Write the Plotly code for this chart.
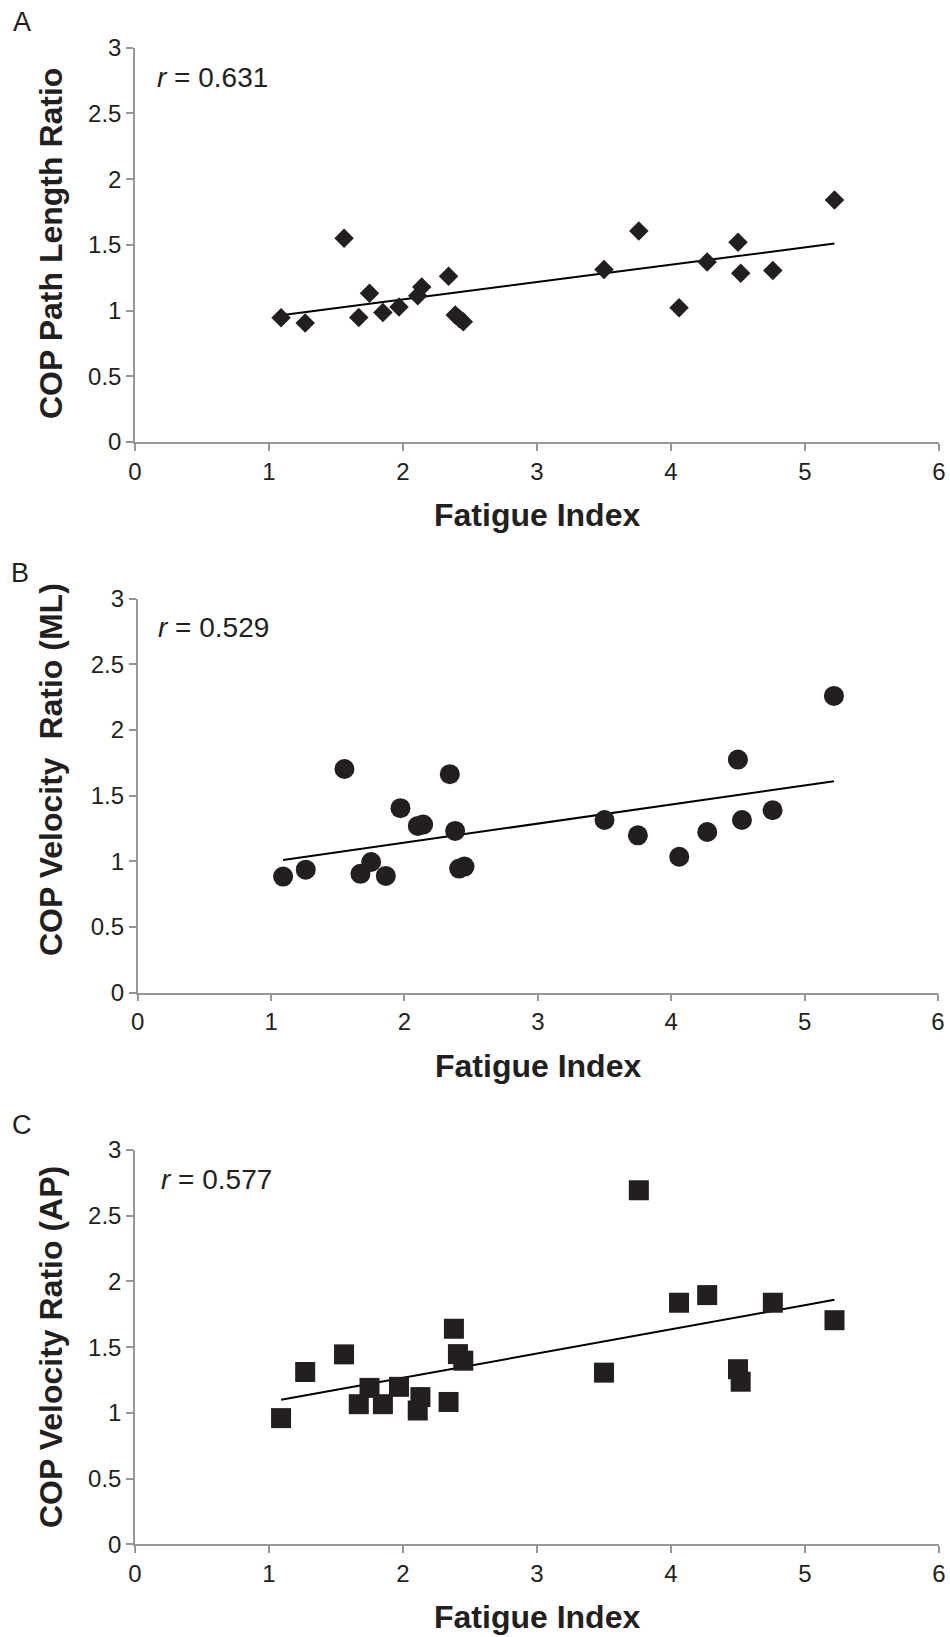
import plotly.graph_objects as go

# ---------------- data ----------------
fatigue_a = [1.09, 1.27, 1.56, 1.67, 1.75, 1.85, 1.97, 2.11, 2.14, 2.34, 2.39, 2.42, 2.45,
             3.50, 3.76, 4.06, 4.27, 4.50, 4.52, 4.76, 5.22]
path_ratio = [0.946, 0.906, 1.55, 0.948, 1.132, 0.985, 1.028, 1.112, 1.18, 1.262, 0.967, 0.94, 0.914,
              1.313, 1.606, 1.022, 1.37, 1.52, 1.284, 1.305, 1.842]

fatigue_b = [1.09, 1.26, 1.55, 1.67, 1.75, 1.86, 1.97, 2.10, 2.14, 2.34, 2.38, 2.41, 2.45,
             3.50, 3.75, 4.06, 4.27, 4.50, 4.53, 4.76, 5.22]
vel_ml_ratio = [0.884, 0.937, 1.703, 0.905, 0.995, 0.889, 1.405, 1.27, 1.28, 1.664, 1.232, 0.945, 0.96,
                1.315, 1.198, 1.035, 1.224, 1.775, 1.315, 1.389, 2.26]

fatigue_c = [1.09, 1.27, 1.56, 1.67, 1.75, 1.85, 1.97, 2.11, 2.13, 2.34, 2.38, 2.41, 2.45,
             3.50, 3.76, 4.06, 4.27, 4.50, 4.52, 4.76, 5.22]
vel_ap_ratio = [0.96, 1.311, 1.445, 1.066, 1.19, 1.066, 1.198, 1.018, 1.12, 1.083, 1.64, 1.447, 1.397,
                1.306, 2.694, 1.838, 1.896, 1.332, 1.237, 1.838, 1.705]

trend_x = [1.09, 5.22]
trend_a = [0.965, 1.51]
trend_b = [1.01, 1.61]
trend_c = [1.10, 1.86]

r_labels = ["0.631", "0.529", "0.577"]
panel_labels = ["A", "B", "C"]
y_titles = ["COP Path Length Ratio", "COP Velocity\u00a0 Ratio (ML)", "COP Velocity Ratio (AP)"]
x_title = "Fatigue Index"

# ---------------- figure ----------------
W, H = 950, 1637
INK = "#231f20"
AXC = "#969696"
FONT = "Liberation Sans, Arial, sans-serif"

fig = go.Figure()

panels = [
    dict(x=fatigue_a, y=path_ratio, ty=trend_a, sym="diamond", size=15),
    dict(x=fatigue_b, y=vel_ml_ratio, ty=trend_b, sym="circle", size=20),
    dict(x=fatigue_c, y=vel_ap_ratio, ty=trend_c, sym="square", size=20),
]

# plot-area pixel boxes (left, right, top, bottom)
boxes = [(135, 939, 47.7, 442.0), (137.7, 938, 598.7, 992.7), (135, 939, 1150, 1544.3)]
xtitle_y = [515, 1066, 1617]
ytitle_y = [244, 770, 1347]
r_pos = [(155, 77.5), (156, 627.5), (159, 1179)]
lab_pos = [(22, 22), (20, 573), (22, 1125)]

for i, p in enumerate(panels):
    n = "" if i == 0 else str(i + 1)
    fig.add_trace(go.Scatter(x=trend_x, y=p["ty"], mode="lines",
                             line=dict(color="black", width=2),
                             xaxis="x" + n, yaxis="y" + n, showlegend=False, hoverinfo="skip"))
    fig.add_trace(go.Scatter(x=p["x"], y=p["y"], mode="markers",
                             marker=dict(symbol=p["sym"], size=p["size"], color=INK,
                                         line=dict(width=0)),
                             xaxis="x" + n, yaxis="y" + n, showlegend=False))
    l, r, t, b = boxes[i]
    axx = dict(domain=[l / W, r / W], range=[0, 6], dtick=1, tick0=0,
               showline=True, linecolor=AXC, linewidth=1.5,
               ticks="outside", ticklen=7, tickwidth=1.5, tickcolor=AXC,
               showgrid=False, zeroline=False, automargin=False,
               tickfont=dict(family=FONT, size=24, color=INK),
               anchor="y" + n, fixedrange=True)
    axy = dict(domain=[(H - b) / H, (H - t) / H], range=[0, 3], dtick=0.5, tick0=0,
               showline=True, linecolor=AXC, linewidth=1.5,
               ticks="outside", ticklen=7, tickwidth=1.5, tickcolor=AXC,
               showgrid=False, zeroline=False, automargin=False,
               tickfont=dict(family=FONT, size=24, color=INK),
               anchor="x" + n, fixedrange=True)
    fig.update_layout(**{"xaxis" + n: axx, "yaxis" + n: axy})

    # axis titles
    fig.add_annotation(text="<b>" + x_title + "</b>", xref="paper", yref="paper",
                       x=((l + r) / 2) / W, y=(H - xtitle_y[i]) / H,
                       xanchor="center", yanchor="middle", showarrow=False,
                       font=dict(family=FONT, size=32, color=INK))
    fig.add_annotation(text="<b>" + y_titles[i] + "</b>", xref="paper", yref="paper",
                       x=51 / W, y=(H - ytitle_y[i]) / H, textangle=-90,
                       xanchor="center", yanchor="middle", showarrow=False,
                       font=dict(family=FONT, size=32, color=INK))
    # r value
    fig.add_annotation(text="<i>r</i> = " + r_labels[i], xref="paper", yref="paper",
                       x=r_pos[i][0] / W, y=(H - r_pos[i][1]) / H,
                       xanchor="left", yanchor="middle", showarrow=False,
                       font=dict(family=FONT, size=28, color=INK))
    # panel label
    fig.add_annotation(text=panel_labels[i], xref="paper", yref="paper",
                       x=lab_pos[i][0] / W, y=(H - lab_pos[i][1]) / H,
                       xanchor="center", yanchor="middle", showarrow=False,
                       font=dict(family=FONT, size=27, color=INK))

fig.update_layout(width=W, height=H, autosize=False,
                  margin=dict(l=0, r=0, t=0, b=0, pad=0, autoexpand=False),
                  paper_bgcolor="white", plot_bgcolor="white",
                  font=dict(family=FONT, color=INK))

fig.write_html("out.html", config={"displayModeBar": False},
               post_script="document.body.style.margin='0';document.body.style.padding='0';"
                           "document.documentElement.style.overflow='hidden';"
                           "document.body.style.overflow='hidden';")
